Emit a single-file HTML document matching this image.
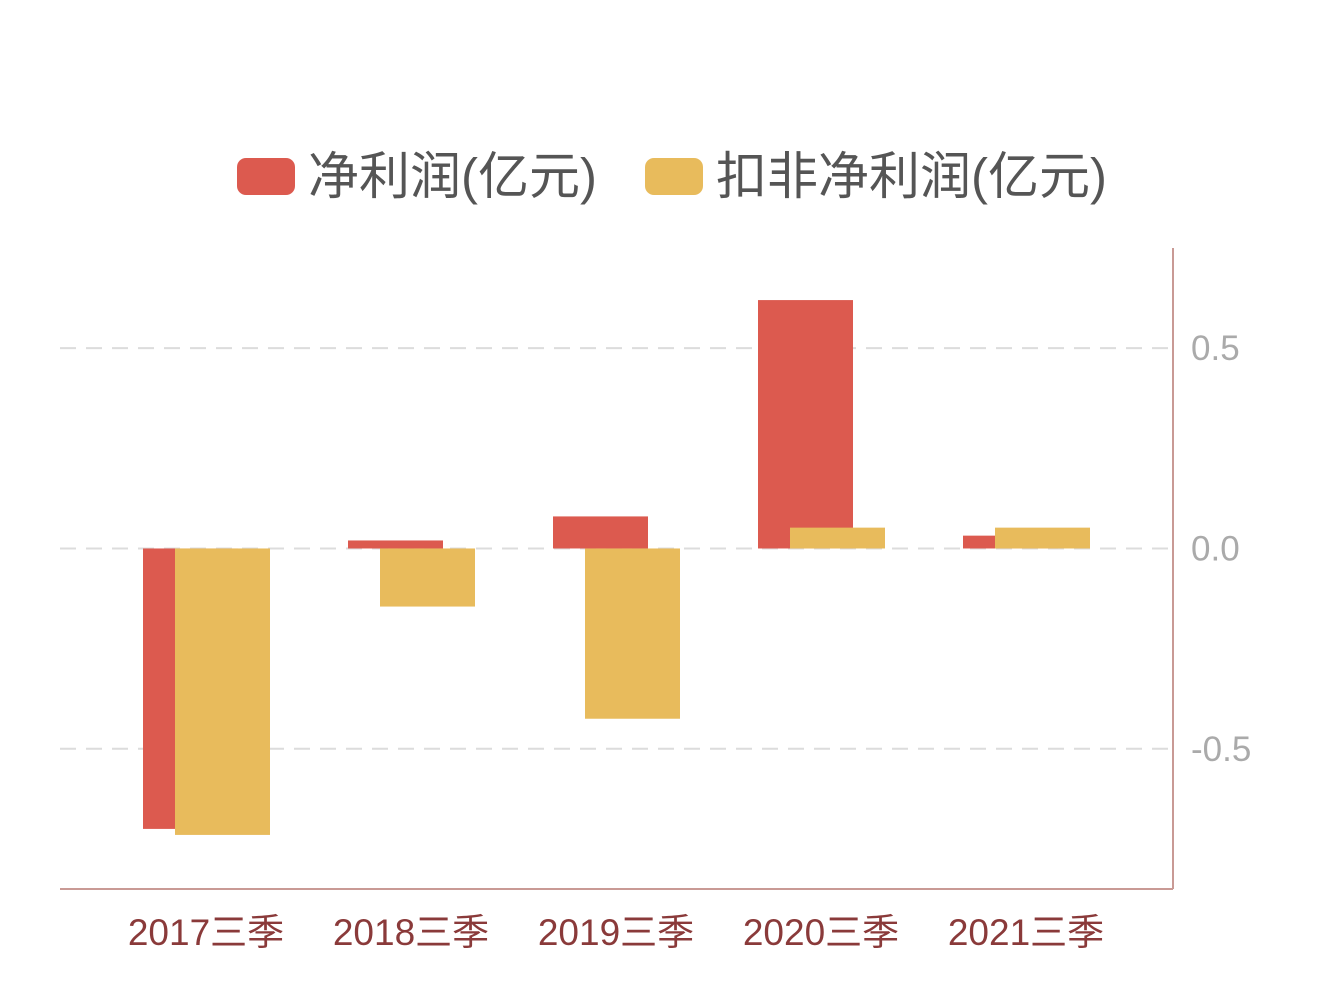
<!DOCTYPE html>
<html><head><meta charset="utf-8"><style>
body{margin:0;background:#fff;}
svg{display:block;}
</style></head><body>
<svg id="c" width="1336" height="1000" xmlns="http://www.w3.org/2000/svg"
 font-family="'Liberation Sans','Noto Sans CJK SC',sans-serif">
<g>
 <rect x="237" y="158" width="58" height="37" rx="9" fill="#dc5a4f"/>
 <text x="308" y="194" font-size="51" fill="#555">净利润(亿元)</text>
 <rect x="645" y="158" width="58" height="37" rx="9" fill="#e8bb5c"/>
 <text x="716" y="194" font-size="51" fill="#555">扣非净利润(亿元)</text>
</g>
<g id="plot"></g>
</svg>
<script>
const categories=['2017三季','2018三季','2019三季','2020三季','2021三季'];
const netProfit=[-0.70,0.02,0.08,0.62,0.032];
const deductedProfit=[-0.715,-0.145,-0.425,0.052,0.052];
const yTicks=[0.5,0.0,-0.5];
const yTickLabels=['0.5','0.0','-0.5'];
const NS='http://www.w3.org/2000/svg';
const g=document.getElementById('plot');
const pLeft=60,pRight=1173,pTop=248,pBottom=889,yMin=-0.85,yMax=0.75;
const y=v=>pBottom-(v-yMin)/(yMax-yMin)*(pBottom-pTop);
const band=205;
const cx=i=>205+band*i;
function mk(t,a){const e=document.createElementNS(NS,t);for(const k in a)e.setAttribute(k,a[k]);g.appendChild(e);return e;}
yTicks.forEach((v,i)=>{
 const l=mk('line',{x1:pLeft,x2:pRight-5,y1:y(v),y2:y(v),stroke:'#dcdcdc','stroke-width':2,'stroke-dasharray':'16,10'});
 
 
 const t=mk('text',{x:1191,y:y(v)+12,'font-size':35,fill:'#aaa'});
 t.textContent=yTickLabels[i];
 
 
});
const bw=95;
categories.forEach((c,i)=>{
 const x0=cx(i)-62;
 const v1=netProfit[i];
 const r=mk('rect',{x:x0,y:Math.min(y(v1),y(0)),width:bw,height:Math.abs(y(v1)-y(0)),fill:'#dc5a4f'});
 
 
 const v2=deductedProfit[i];
 const r2=mk('rect',{x:x0+32,y:Math.min(y(v2),y(0)),width:bw,height:Math.abs(y(v2)-y(0)),fill:'#e8bb5c'});
 
 
 const t=mk('text',{x:cx(i)+1,y:945,'font-size':37,fill:'#8a3a3a','text-anchor':'middle'});
 t.textContent=c;
 
 
});
const ax=mk('line',{x1:pLeft,x2:pRight,y1:pBottom,y2:pBottom,stroke:'#c99a95','stroke-width':2});


const ay=mk('line',{x1:pRight,x2:pRight,y1:pTop,y2:pBottom,stroke:'#c99a95','stroke-width':2});


</script>
</body></html>
